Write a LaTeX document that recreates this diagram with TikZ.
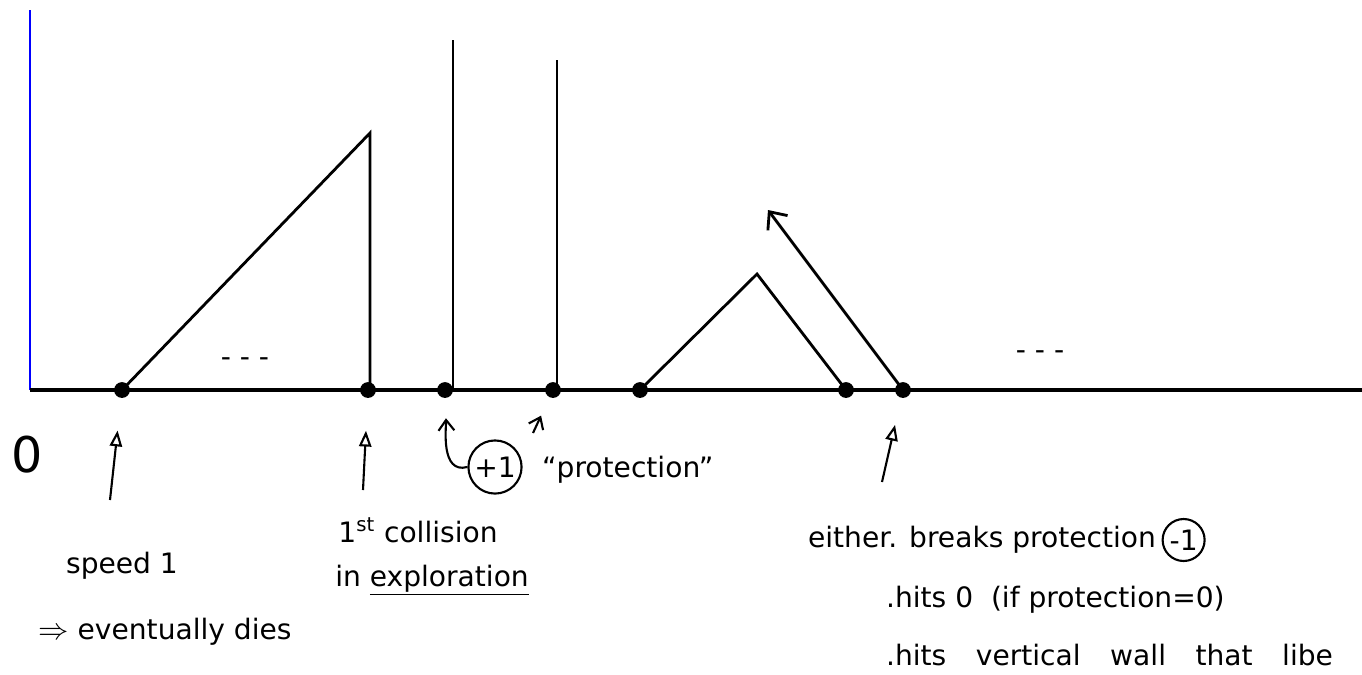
\documentclass[tikz,border=0pt]{standalone}
\usepackage{fontspec}
\setmainfont{DejaVu Sans}
\usetikzlibrary{positioning,arrows.meta,calc}

\begin{document}
\begin{tikzpicture}[x=0.02cm, y=-0.02cm,
    hand/.style={font=\fontsize{16}{19}\selectfont, inner sep=1pt},
    wall/.style={line width=1.6pt},
    pt/.style={circle, fill, inner sep=0pt, minimum size=9pt},
    openup/.style={line width=1.2pt, -{Triangle[open, length=9pt, width=7pt]}},
    barb/.style={line width=1.2pt, -{Straight Barb[length=6pt, width=9pt]}},
    ringed/.style={hand, circle, draw, line width=1.2pt, inner sep=1.5pt}]
  % pixel grid of the sketch: x to the right, y downwards
  \useasboundingbox (0,0) rectangle (1362,674);
  % points on the line
  \node[pt] (d1) at (122,390) {};
  \node[pt] (d2) at (368,390) {};
  \node[pt] (d3) at (445,390) {};
  \node[pt] (d4) at (553,390) {};
  \node[pt] (d5) at (640,390) {};
  \node[pt] (d6) at (846,390) {};
  \node[pt] (d7) at (903,390) {};
  % wall at 0 and the line
  \draw[blue, line width=1.3pt] (30,390) -- (30,10);
  \draw[line width=1.8pt] (30,390) -- (1362,390);
  % particles
  \draw[wall] (d1.center) -- (370,133) -- (370,390);
  \draw[wall] (453,390) -- (453,40);
  \draw[wall] (557,390) -- (557,60);
  \draw[wall] (d5.center) -- (757,274) -- (d6.center);
  \draw[wall, -{Straight Barb[length=8pt, width=14pt]}] (d7.center) -- (768,210);
  \node[hand] (gap1) at (245,362) {- - -};
  \node[hand] (gap2) at (1040,355) {- - -};
  % labels
  \node[font=\fontsize{28}{28}\selectfont] (zero) at (27,455) {0};
  \node[hand] (speed) at (122,566) {speed 1};
  \node[hand] (dies) at (165,632) {$\Rightarrow$ eventually dies};
  \coordinate (s1) at (110,500);
  \draw[openup, shorten >=0.65cm] (s1) -- (d1);
  \node[hand] (coll) at (418,530) {1\textsuperscript{st} collision};
  \node[hand] (expl) at (432,580) {in \underline{exploration}};
  \coordinate (s2) at (363,490);
  \draw[openup, shorten >=0.65cm] (s2) -- (d2);
  \node[ringed] (plus) at (495,467) {+1};
  \node[hand, anchor=west] (prot) at (540,470) {``protection''};
  \draw[barb, shorten >=0.4cm] (plus.west) to[out=195, in=-88] (d3);
  \coordinate (s4) at (533,433);
  \draw[barb, shorten >=0.4cm] (s4) -- (d4);
  \node[hand, anchor=west] (either) at (806,540) {either. breaks protection};
  \node[ringed, right=2pt of either] (minus) {-1};
  \node[hand, anchor=west] (hit0) at (884,600) {.hits 0 \ (if protection=0)};
  \node[hand, anchor=west] (hitw) at (884,655) {\spaceskip=1.05em\relax .hits vertical wall that libe};
  \coordinate (s7) at (882,482);
  \draw[openup, shorten >=0.55cm] (s7) -- (d7);
\end{tikzpicture}
\end{document}
